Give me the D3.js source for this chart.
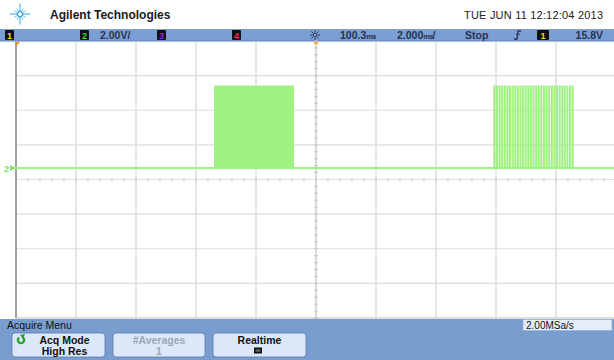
<!DOCTYPE html>
<html>
<head>
<meta charset="utf-8">
<script src="https://cdn.jsdelivr.net/npm/d3@7"></script>
<style>
  html, body { margin: 0; padding: 0; background: #fff; }
  svg { display: block; font-family: "Liberation Sans", Arial, sans-serif; }
</style>
</head>
<body>
<svg id="scope" width="614" height="360"></svg>
<script>
// ---- Acquisition settings (channel 2, 2.00 V/div, 2.000 ms/div, delay 100.3 ms) ----
const voltsPerDiv = 2.0;
const msPerDiv = 2.0;
const delayMs = 100.3;
const groundOffsetV = 0.66;          // channel 2 ground marker sits above screen centre

// ---- Captured waveform: two pulse bursts on a 0 V baseline ----
const burstStartMs = [96.92, 106.23];
const burstEndMs   = [99.51, 108.86];
const burstPeriodMs = [0.070, 0.087];
const burstHighMs   = [0.036, 0.030];
const burstLevelV   = [4.74, 4.74];
const baselineV = 0.0;

// ---- Status line texts ----
const headerTitle = "Agilent Technologies";
const headerDate = "TUE JUN 11 12:12:04 2013";
const channelLabels = ["1", "2", "3", "4"];
const channelColors = ["#ffe000", "#38d838", "#a020f0", "#ff2a60"];
const chScaleText = "2.00V/";
const delayText = "100.3";
const timebaseText = "2.000";
const runState = "Stop";
const trigLevelText = "15.8V";
const sampleRateText = "2.00MSa/s";
const menuTitle = "Acquire Menu";
const softkeys = [
  { top: "Acq Mode", bottom: "High Res", enabled: true },
  { top: "#Averages", bottom: "1", enabled: false },
  { top: "Realtime", bottom: "", enabled: true }
];

const svg = d3.select("#scope");
const W = 614, H = 360;

// graticule geometry: 10 x 8 divisions
const gx0 = 16, divW = 60, gy0 = 41, gy1 = 318;
const divH = (gy1 - gy0) / 8;

const x = d3.scaleLinear()
  .domain([delayMs - 5 * msPerDiv, delayMs + 5 * msPerDiv])
  .range([gx0, gx0 + 10 * divW]);
const centerV = -groundOffsetV;
const y = d3.scaleLinear()
  .domain([centerV - 4 * voltsPerDiv, centerV + 4 * voltsPerDiv])
  .range([gy1, gy0]);

// ---------- header ----------
svg.append("rect").attr("x", 0).attr("y", 0).attr("width", W).attr("height", 29).attr("fill", "#fff");

// Agilent spark logo
const logo = svg.append("g").attr("transform", "translate(20,14)");
d3.range(12).forEach(i => {
  const a = i * Math.PI / 6;
  const long = i % 3 === 0;
  const r0 = 3, r1 = long ? 10 : 6;
  logo.append("line")
    .attr("x1", r0 * Math.cos(a)).attr("y1", r0 * Math.sin(a))
    .attr("x2", r1 * Math.cos(a)).attr("y2", r1 * Math.sin(a))
    .attr("stroke", "#6ec2ee").attr("stroke-width", long ? 1.3 : 1)
    .attr("stroke-linecap", "round");
});
logo.append("circle").attr("r", 2.6).attr("fill", "none").attr("stroke", "#3a9ad8").attr("stroke-width", 1.2);

svg.append("text").attr("x", 50).attr("y", 19)
  .attr("font-size", 12).attr("font-weight", "bold").attr("fill", "#1a1a1a")
  .text(headerTitle);
svg.append("text").attr("x", 603).attr("y", 19).attr("text-anchor", "end")
  .attr("font-size", 11).attr("fill", "#222").attr("textLength", 139)
  .text(headerDate);

// ---------- status bar ----------
svg.append("rect").attr("x", 0).attr("y", 29).attr("width", W).attr("height", 12).attr("fill", "#7a9fd4");
svg.append("line").attr("x1", 0).attr("x2", W).attr("y1", 41).attr("y2", 41).attr("stroke", "#5f80b4").attr("stroke-width", 1);

const boxX = [5, 80, 157, 232];
channelLabels.forEach((c, i) => {
  svg.append("rect").attr("x", boxX[i]).attr("y", 30).attr("width", 9).attr("height", 10)
    .attr("fill", "#111").attr("rx", 1);
  svg.append("text").attr("x", boxX[i] + 4.5).attr("y", 38.5).attr("text-anchor", "middle")
    .attr("font-size", 9).attr("font-weight", "bold").attr("fill", channelColors[i]).text(c);
});

const statusText = (tx, str, anchor) => svg.append("text").attr("x", tx).attr("y", 38.8)
  .attr("font-size", 10.5).attr("font-weight", "bold").attr("fill", "#2a3150")
  .attr("text-anchor", anchor || "start").text(str);
statusText(100, chScaleText);

// delay / timebase with compact time-unit glyph
const dl = statusText(340, delayText);
dl.append("tspan").attr("font-size", 7.5).attr("letter-spacing", -0.8).text("ms");
const tb = statusText(397, timebaseText);
tb.append("tspan").attr("font-size", 7.5).attr("letter-spacing", -0.8).text("ms");
tb.append("tspan").text("/");
statusText(465, runState);
statusText(603, trigLevelText, "end");

// brightness (sun) icon
const sun = svg.append("g").attr("transform", "translate(315,35)");
sun.append("circle").attr("r", 2).attr("fill", "none").attr("stroke", "#2a3150").attr("stroke-width", 1);
d3.range(8).forEach(i => {
  const a = i * Math.PI / 4;
  sun.append("line").attr("x1", 3.2 * Math.cos(a)).attr("y1", 3.2 * Math.sin(a))
    .attr("x2", 5 * Math.cos(a)).attr("y2", 5 * Math.sin(a))
    .attr("stroke", "#2a3150").attr("stroke-width", 1);
});

// trigger slope glyph
svg.append("path").attr("d", "M514,39 L517,39 L518,31 L521,31")
  .attr("fill", "none").attr("stroke", "#2a3150").attr("stroke-width", 1.3);
svg.append("path").attr("d", "M516,35 L518,33 L520,35").attr("fill", "none").attr("stroke", "#2a3150").attr("stroke-width", 0.9);

// trigger source box
svg.append("rect").attr("x", 537).attr("y", 30).attr("width", 12).attr("height", 10).attr("fill", "#111").attr("rx", 1);
svg.append("text").attr("x", 543).attr("y", 38.5).attr("text-anchor", "middle")
  .attr("font-size", 9).attr("font-weight", "bold").attr("fill", channelColors[0]).text("1");

// ---------- graticule ----------
const grid = svg.append("g");
const vDivs = d3.range(0, 11).map(i => x.domain()[0] + i * msPerDiv);
const hDivs = d3.range(0, 9).map(i => y.domain()[0] + i * voltsPerDiv);

grid.selectAll("line.v").data(vDivs.slice(1)).join("line")
  .attr("x1", d => x(d)).attr("x2", d => x(d)).attr("y1", gy0 + 1).attr("y2", gy1)
  .attr("stroke", "#d6d6d6").attr("stroke-width", 1.2);
grid.selectAll("line.h").data(hDivs.slice(1, 8)).join("line")
  .attr("x1", gx0).attr("x2", W).attr("y1", d => y(d)).attr("y2", d => y(d))
  .attr("stroke", "#dcdcdc").attr("stroke-width", 1.2);

// centre axes with minor ticks
const cx = x(delayMs), cy = y(centerV);
grid.append("line").attr("x1", cx).attr("x2", cx).attr("y1", gy0 + 1).attr("y2", gy1)
  .attr("stroke", "#cfcfcf").attr("stroke-width", 1.2);
const minorX = d3.range(0, 51).map(i => x.domain()[0] + i * msPerDiv / 5);
grid.selectAll("line.mx").data(minorX).join("line")
  .attr("x1", d => x(d)).attr("x2", d => x(d)).attr("y1", cy - 2).attr("y2", cy + 2)
  .attr("stroke", "#c8c8c8").attr("stroke-width", 1);
const minorY = d3.range(0, 41).map(i => y.domain()[0] + i * voltsPerDiv / 5);
grid.selectAll("line.my").data(minorY).join("line")
  .attr("x1", cx - 2).attr("x2", cx + 2).attr("y1", d => y(d)).attr("y2", d => y(d))
  .attr("stroke", "#c8c8c8").attr("stroke-width", 1);
grid.append("line").attr("x1", gx0).attr("x2", W).attr("y1", cy).attr("y2", cy)
  .attr("stroke", "#e2e2e2").attr("stroke-width", 1).attr("stroke-dasharray", "2,2");

// left graticule edge
grid.append("line").attr("x1", gx0).attr("x2", gx0).attr("y1", gy0 + 1).attr("y2", gy1)
  .attr("stroke", "#a0a0a0").attr("stroke-width", 2);
grid.append("line").attr("x1", gx0).attr("x2", W).attr("y1", gy1).attr("y2", gy1)
  .attr("stroke", "#bdbdbd").attr("stroke-width", 1);

// trigger point markers
svg.append("path").attr("d", `M${gx0},${gy0 + 1} L${gx0 + 4},${gy0 + 1} L${gx0},${gy0 + 5} Z`).attr("fill", "#f08a1c");
svg.append("path").attr("d", `M${cx - 3},${gy0 + 1} L${cx + 3},${gy0 + 1} L${cx},${gy0 + 4} Z`).attr("fill", "#f5a040");

// ---------- waveform ----------
const pts = [[x.domain()[0], baselineV]];
burstStartMs.forEach((s, b) => {
  pts.push([s, baselineV]);
  d3.range(s, burstEndMs[b], burstPeriodMs[b]).forEach(t => {
    pts.push([t, burstLevelV[b]]);
    pts.push([t + burstHighMs[b], baselineV]);
  });
  pts.push([burstEndMs[b], baselineV]);
});
pts.push([x.domain()[1], baselineV]);

// high-level fill of the first burst (trace persistence)
svg.selectAll("rect.burst").data(burstStartMs.slice(0, 1)).join("rect")
  .attr("x", (d) => x(d)).attr("width", (d, i) => x(burstEndMs[i]) - x(d))
  .attr("y", (d, i) => y(burstLevelV[i])).attr("height", (d, i) => y(baselineV) - y(burstLevelV[i]))
  .attr("fill", "#bdf8a8");

const line = d3.line().x(d => x(d[0])).y(d => y(d[1])).curve(d3.curveStepAfter);
svg.append("path").datum(pts).attr("d", line)
  .attr("fill", "none").attr("stroke", "#9ef27f").attr("stroke-width", 1.1);
// thicker baseline segment
svg.append("line").attr("x1", gx0 - 2).attr("x2", W).attr("y1", y(baselineV)).attr("y2", y(baselineV))
  .attr("stroke", "#9ef27f").attr("stroke-width", 2);

// channel 2 ground reference marker
svg.append("path").attr("d", `M${gx0 - 1},${y(baselineV)} L${gx0 - 6},${y(baselineV) - 3} L${gx0 - 6},${y(baselineV) + 3} Z`)
  .attr("fill", "#7fe060");
svg.append("text").attr("x", 4).attr("y", y(baselineV) + 4).attr("font-size", 9)
  .attr("font-weight", "bold").attr("fill", "#7fe060").text("2");

// ---------- softkey menu ----------
svg.append("rect").attr("x", 0).attr("y", gy1 + 1).attr("width", W).attr("height", H - gy1 - 1).attr("fill", "#7a9dd0");
svg.append("text").attr("x", 7).attr("y", 329).attr("font-size", 10.5).attr("fill", "#111").text(menuTitle);

svg.append("rect").attr("x", 523).attr("y", 319.5).attr("width", 89).attr("height", 11)
  .attr("fill", "#e4eefb").attr("stroke", "#9bb2d6").attr("stroke-width", 0.8);
svg.append("text").attr("x", 526).attr("y", 328.6).attr("font-size", 10).attr("fill", "#111").text(sampleRateText);

const keyX = [12, 113, 213], keyW = [93, 92, 93];
softkeys.forEach((k, i) => {
  svg.append("rect").attr("x", keyX[i]).attr("y", 333).attr("width", keyW[i]).attr("height", 24).attr("rx", 3)
    .attr("fill", "#dce8f8").attr("stroke", "#5a79aa").attr("stroke-width", 0.8);
  const c = keyX[i] + keyW[i] / 2 + (i === 0 ? 6 : 0);
  const col = k.enabled ? "#111" : "#9aa6b8";
  svg.append("text").attr("x", c).attr("y", 344).attr("text-anchor", "middle")
    .attr("font-size", 10.5).attr("font-weight", "bold").attr("fill", col).text(k.top);
  if (k.bottom) {
    svg.append("text").attr("x", c).attr("y", 355).attr("text-anchor", "middle")
      .attr("font-size", 10.5).attr("font-weight", "bold").attr("fill", col).text(k.bottom);
  }
});
// rotate-knob icon on first key
const knob = svg.append("g").attr("transform", "translate(21,340)");
knob.append("path").attr("d", d3.arc()({ innerRadius: 2, outerRadius: 4.3, startAngle: 0.6, endAngle: 5.6 }))
  .attr("fill", "#22a02a");
knob.append("path").attr("d", "M-1,-5 L4,-6 L2,-1 Z").attr("fill", "#22a02a");
// realtime indicator box
svg.append("rect").attr("x", 254).attr("y", 347.5).attr("width", 8).attr("height", 6).attr("fill", "#111");
svg.append("rect").attr("x", 255.5).attr("y", 349).attr("width", 5).attr("height", 3).attr("fill", "#555");
</script>
</body>
</html>
